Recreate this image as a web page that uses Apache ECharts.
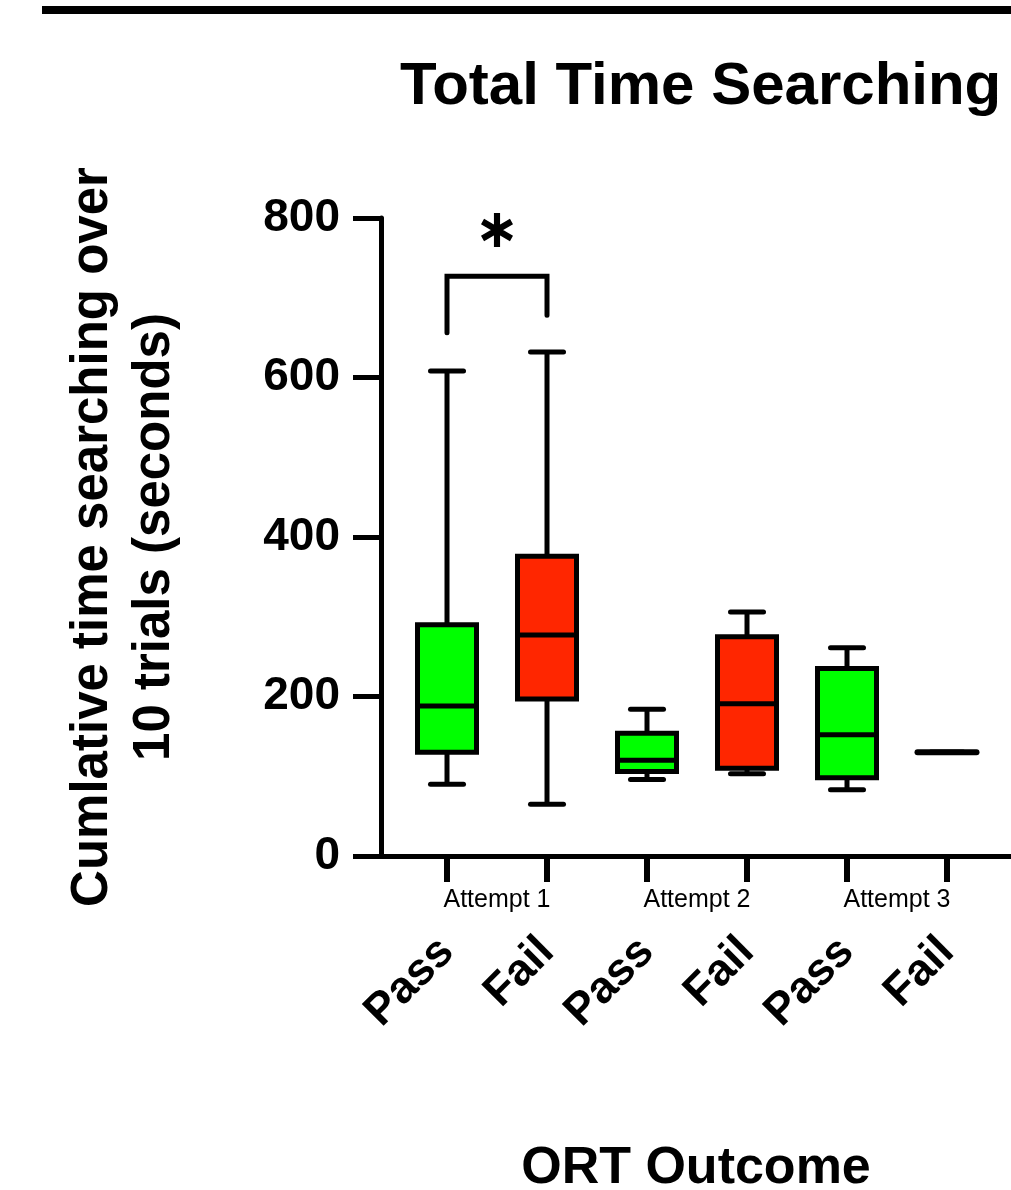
<!DOCTYPE html>
<html>
<head>
<meta charset="utf-8">
<script src="https://cdn.jsdelivr.net/npm/echarts@6/dist/echarts.min.js"></script>
<style>
  html, body { margin: 0; padding: 0; background: #ffffff; }
  #chart { width: 1011px; height: 1190px; }
</style>
</head>
<body>
<div id="chart"></div>
<script>
// ---- data ----
const categories = ['Pass', 'Fail', 'Pass', 'Fail', 'Pass', 'Fail'];
const groupLabels = ['Attempt 1', 'Attempt 2', 'Attempt 3'];
const groupCenters = [0.5, 2.5, 4.5];
const whiskerMin = [90, 65, 96, 103, 83, 130];
const quartile1  = [130, 197, 106, 110, 98, 130];
const medians    = [188, 277, 120, 191, 152, 130];
const quartile3  = [290, 376, 154, 275, 235, 130];
const whiskerMax = [608, 632, 184, 306, 261, 130];
const yTicks = [0, 200, 400, 600, 800];
const bracketX = [0, 0, 1, 1];
const bracketY = [656, 727, 727, 678];
const starPos = [0.5, 785];

const GREEN = '#00FF00';
const RED = '#FF2600';
const fills = categories.map(c => c === 'Pass' ? GREEN : RED);
const FONT = '"Liberation Sans", Arial, Helvetica, sans-serif';

const boxData = categories.map((c, i) => [i, whiskerMin[i], quartile1[i], medians[i], quartile3[i], whiskerMax[i]]);
const bracketData = bracketX.map((x, i) => [x, bracketY[i]]);

const starPath = 'path://M-1.1,-6L1.1,-6L1.1,6L-1.1,6Z M4.646,-3.953L5.746,-2.047L-4.646,3.953L-5.746,2.047Z M5.746,2.047L4.646,3.953L-5.746,-2.047L-4.646,-3.953Z';

function renderBox(params, api) {
  const idx = params.dataIndex;
  const x = api.value(0);
  const pMin = api.coord([x, api.value(1)]);
  const pQ1 = api.coord([x, api.value(2)]);
  const pMed = api.coord([x, api.value(3)]);
  const pQ3 = api.coord([x, api.value(4)]);
  const pMax = api.coord([x, api.value(5)]);
  const unit = api.size([1, 0])[0];
  const bw = unit * 0.59;
  const cw = unit * 0.33;
  const cx = pMed[0];
  const lw = 5;
  const stroke = { stroke: '#000', lineWidth: lw, fill: null };
  const capStyle = { stroke: '#000', lineWidth: lw, lineCap: 'round', fill: null };
  const flat = pQ1[1] - pQ3[1] < 1;
  const children = [
    { type: 'line', shape: { x1: cx, y1: pQ3[1], x2: cx, y2: pMax[1] }, style: stroke },
    { type: 'line', shape: { x1: cx, y1: pQ1[1], x2: cx, y2: pMin[1] }, style: stroke },
    { type: 'line', shape: { x1: cx - cw / 2, y1: pMax[1], x2: cx + cw / 2, y2: pMax[1] }, style: capStyle },
    { type: 'line', shape: { x1: cx - cw / 2, y1: pMin[1], x2: cx + cw / 2, y2: pMin[1] }, style: capStyle }
  ];
  if (!flat) {
    children.push({ type: 'rect', shape: { x: cx - bw / 2, y: pQ3[1], width: bw, height: pQ1[1] - pQ3[1] },
      style: { fill: fills[idx], stroke: '#000', lineWidth: lw } });
  }
  children.push({ type: 'line', shape: { x1: cx - bw / 2, y1: pMed[1], x2: cx + bw / 2, y2: pMed[1] },
    style: flat ? { stroke: '#000', lineWidth: 6, lineCap: 'round' } : stroke });
  return { type: 'group', children: children };
}

const chart = echarts.init(document.getElementById('chart'), null, { renderer: 'canvas' });
const option = {
  backgroundColor: '#ffffff',
  animation: false,
  textStyle: { fontFamily: FONT, color: '#000' },
  title: {
    text: 'Total Time Searching',
    left: 400,
    top: 57,
    padding: 0,
    textStyle: { fontFamily: FONT, fontSize: 60, fontWeight: 'bold', color: '#000' }
  },
  graphic: [
    { type: 'rect', left: 42, top: 6, shape: { width: 969, height: 8 }, style: { fill: '#000' } }
  ],
  grid: {
    left: 381, top: 218, right: 0, bottom: 334,
    containLabel: false,
    outerBoundsMode: 'none'
  },
  xAxis: [
    {
      type: 'value',
      min: -0.66,
      max: 5.64,
      position: 'bottom',
      splitLine: { show: false },
      axisLine: { show: true, onZero: false, lineStyle: { color: '#000', width: 5 } },
      axisTick: { show: true, customValues: categories.map((c, i) => i), length: 26, lineStyle: { color: '#000', width: 6 } },
      axisLabel: {
        show: true,
        customValues: categories.map((c, i) => i),
        formatter: v => categories[Math.round(v)] || '',
        rotate: 45,
        margin: 89,
        fontFamily: FONT, fontSize: 45, fontWeight: 'bold', color: '#000'
      },
      name: 'ORT Outcome',
      nameLocation: 'middle',
      nameGap: 287,
      nameTextStyle: { fontFamily: FONT, fontSize: 52, fontWeight: 'bold', color: '#000' }
    },
    {
      type: 'value',
      min: -0.66,
      max: 5.64,
      position: 'bottom',
      splitLine: { show: false },
      axisLine: { show: false, onZero: false },
      axisTick: { show: false },
      axisLabel: {
        show: true,
        customValues: groupCenters,
        formatter: v => groupLabels[Math.round((v - 0.5) / 2)] || '',
        margin: 32,
        fontFamily: FONT, fontSize: 25, color: '#000'
      }
    }
  ],
  yAxis: {
    type: 'value',
    min: 0,
    max: 800,
    interval: 200,
    splitLine: { show: false },
    axisLine: { show: true, onZero: false, lineStyle: { color: '#000', width: 5 } },
    axisTick: { show: true, length: 28, lineStyle: { color: '#000', width: 5 } },
    axisLabel: {
      margin: 41,
      formatter: v => (yTicks.indexOf(v) >= 0 ? String(v) : ''),
      fontFamily: FONT, fontSize: 46, fontWeight: 'bold', color: '#000'
    },
    name: 'Cumlative time searching over\n10 trials (seconds)',
    nameLocation: 'middle',
    nameRotate: 90,
    nameGap: 195,
    nameTextStyle: { fontFamily: FONT, fontSize: 51, fontWeight: 'bold', color: '#000', lineHeight: 62, align: 'center' }
  },
  series: [
    {
      type: 'custom',
      xAxisIndex: 0,
      renderItem: renderBox,
      encode: { x: 0, y: [1, 2, 3, 4, 5] },
      data: boxData,
      clip: false,
      z: 3
    },
    {
      type: 'line',
      xAxisIndex: 0,
      data: bracketData,
      symbol: 'none',
      lineStyle: { color: '#000', width: 5, cap: 'round', join: 'miter' },
      z: 4
    },
    {
      type: 'scatter',
      xAxisIndex: 0,
      data: [starPos],
      symbol: starPath,
      symbolSize: [32, 34],
      itemStyle: { color: '#000', opacity: 1 },
      z: 4
    }
  ]
};
chart.setOption(option);
</script>
</body>
</html>
